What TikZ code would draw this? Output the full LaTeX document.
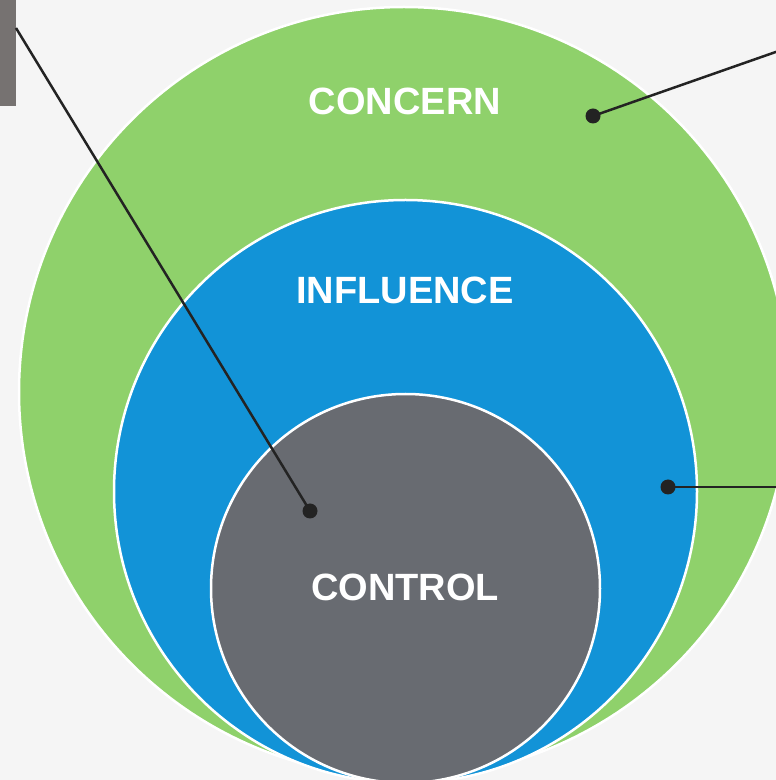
\documentclass[tikz,border=0pt]{standalone}
\usepackage{fontspec}
\setmainfont{Liberation Sans}
\definecolor{bgGray}{HTML}{F5F5F5}
\definecolor{concernGreen}{HTML}{8FD16B}
\definecolor{influenceBlue}{HTML}{1293D7}
\definecolor{controlGray}{HTML}{686B71}
\definecolor{tabGray}{HTML}{767271}
\definecolor{pointerBlack}{HTML}{232323}
\tikzset{
  ring/.style={draw=white, line width=2.5pt},
  ringlabel/.style={text=white, font=\fontsize{38}{40}\selectfont\bfseries, inner sep=0pt},
  pointer/.style={draw=pointerBlack, line width=2.5pt},
  pin/.style={fill=pointerBlack}
}
\begin{document}
\begin{tikzpicture}[x=1pt,y=1pt]

    % --- Background ---
    \fill[bgGray] (0,0) rectangle (776,780);
    \useasboundingbox (0,0) rectangle (776,780);

    % --- Coordinates ---
    % centres of the three circles
    \coordinate (Oc) at (404,388);
    \coordinate (Oi) at (405.5,288.5);
    \coordinate (Ot) at (405.5,191.5);

    % pointer dots and free ends
    \coordinate (Pt) at (310,269);    % dot in CONTROL
    \coordinate (Pc) at (593,664);    % dot in CONCERN
    \coordinate (Pi) at (668,293);    % dot in INFLUENCE
    \coordinate (Et) at (16,752);
    \coordinate (Ec) at (790,733);
    \coordinate (Ei) at (790,293);

    % --- Circles ---
    \fill[concernGreen] (Oc) circle (385);
    \draw[ring] (Oc) circle (385);
    \fill[influenceBlue] (Oi) circle (291.5);
    \draw[ring] (Oi) circle (291.5);
    \fill[controlGray] (Ot) circle (194.5);
    \draw[ring] (Ot) circle (194.5);

    % --- Tab in the corner ---
    \fill[tabGray] (0,674) rectangle (16,780);

    % --- Labels ---
    \node[ringlabel] (concern) at (405,679) {CONCERN};
    \node[ringlabel] (influence) at (405,490) {INFLUENCE};
    \node[ringlabel] (control) at (405,193) {CONTROL};

    % --- Pointers ---
    \draw[pointer] (Et) -- (Pt);
    \draw[pointer] (Pc) -- (Ec);
    \draw[pointer] (Pi) -- (Ei);
    \fill[pin] (Pt) circle (7.5);
    \fill[pin] (Pc) circle (7.5);
    \fill[pin] (Pi) circle (7.5);

\end{tikzpicture}
\end{document}
